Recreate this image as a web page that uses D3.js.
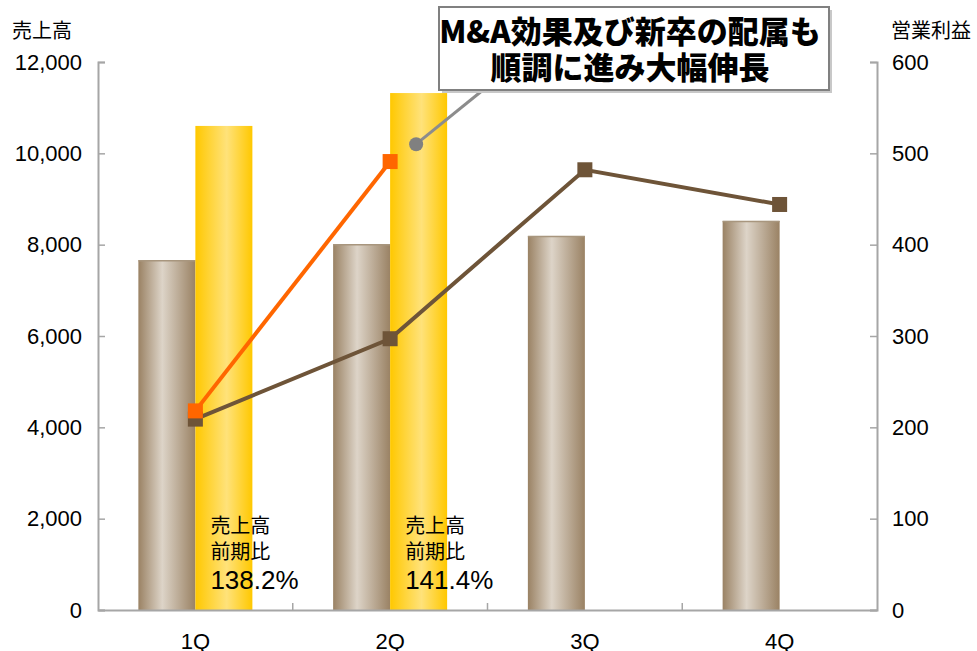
<!DOCTYPE html>
<html>
<head>
<meta charset="utf-8">
<script src="https://cdn.jsdelivr.net/npm/d3@7"></script>
<style>
  body { margin: 0; background: #fff; }
  text { font-family: "Liberation Sans", Arial, sans-serif; fill: #000; }
  .jp { font-family: "Noto Sans CJK JP", sans-serif; }
</style>
</head>
<body>
<svg width="977" height="651"></svg>
<script>
// data
var quarters = ["1Q", "2Q", "3Q", "4Q"];
var salesPrev = [7660, 8010, 8190, 8520];        // brown bars
var salesCur = [10600, 11320, null, null];       // yellow bars
var profitPrev = [209, 297, 482, 444];           // brown line
var profitCur = [218, 491, null, null];          // orange line
var leftTicks = [0, 2000, 4000, 6000, 8000, 10000, 12000];
var rightTicks = [0, 100, 200, 300, 400, 500, 600];
var growthNotes = [{q: "1Q", pct: "138.2%"}, {q: "2Q", pct: "141.4%"}];
var calloutLines = ["M&A効果及び新卒の配属も", "順調に進み大幅伸長"];
var calloutValue = 510;

var svg = d3.select("svg"),
    pLeft = 98, pRight = 877, pTop = 62, pBottom = 610;

var x = d3.scaleBand().domain(quarters).range([pLeft, pRight]);
var bw = x.bandwidth();
var barW = 57;
var yL = d3.scaleLinear().domain([0, 12000]).range([pBottom, pTop]);
var yR = d3.scaleLinear().domain([0, 600]).range([pBottom, pTop]);

var defs = svg.append("defs");
function grad(id, edge, light, at) {
  var g = defs.append("linearGradient").attr("id", id).attr("x1", "0").attr("x2", "1").attr("y1", "0").attr("y2", "0");
  g.append("stop").attr("offset", "0%").attr("stop-color", edge);
  g.append("stop").attr("offset", at).attr("stop-color", light);
  g.append("stop").attr("offset", "100%").attr("stop-color", edge);
}
grad("gBrown", "#9a8264", "#ddd4c8", "42%");
grad("gGold", "#ffc800", "#ffe27a", "55%");

// bars
svg.append("g").selectAll("rect")
  .data(quarters)
  .enter().append("rect")
    .attr("x", function(d) { return x(d) + bw / 2 - barW; })
    .attr("y", function(d, i) { return yL(salesPrev[i]); })
    .attr("width", barW)
    .attr("height", function(d, i) { return pBottom - yL(salesPrev[i]); })
    .attr("fill", "url(#gBrown)");
svg.append("g").selectAll("line")
  .data(quarters)
  .enter().append("line")
    .attr("x1", function(d) { return x(d) + bw / 2 - barW; })
    .attr("x2", function(d) { return x(d) + bw / 2; })
    .attr("y1", function(d, i) { return yL(salesPrev[i]) + 0.5; })
    .attr("y2", function(d, i) { return yL(salesPrev[i]) + 0.5; })
    .attr("stroke", "#a8967e").attr("stroke-width", 1.5);

svg.append("g").selectAll("rect")
  .data(quarters.filter(function(d, i) { return salesCur[i] != null; }))
  .enter().append("rect")
    .attr("x", function(d) { return x(d) + bw / 2; })
    .attr("y", function(d) { return yL(salesCur[quarters.indexOf(d)]); })
    .attr("width", barW)
    .attr("height", function(d) { return pBottom - yL(salesCur[quarters.indexOf(d)]); })
    .attr("fill", "url(#gGold)");

// axes
var axisColor = "#a6a6a6";
var axL = svg.append("g").attr("transform", "translate(" + pLeft + ",0)")
  .call(d3.axisRight(yL).tickValues(leftTicks).tickSize(7).tickFormat(""));
var axR = svg.append("g").attr("transform", "translate(" + pRight + ",0)")
  .call(d3.axisLeft(yR).tickValues(rightTicks).tickSize(7).tickFormat(""));
var axB = svg.append("g").attr("transform", "translate(0," + pBottom + ")")
  .call(d3.axisTop(x).tickSize(0).tickFormat(""));
[axL, axR, axB].forEach(function(a) {
  a.select(".domain").attr("stroke", axisColor).attr("stroke-width", 2);
  a.selectAll(".tick line").attr("stroke", axisColor).attr("stroke-width", 1.5);
});
// inner category separators on x axis
axB.selectAll(".sep")
  .data(quarters.slice(1))
  .enter().append("line")
    .attr("x1", function(d) { return x(d); })
    .attr("x2", function(d) { return x(d); })
    .attr("y1", 0).attr("y2", -7)
    .attr("stroke", axisColor).attr("stroke-width", 1.5);

svg.append("g").selectAll("text")
  .data(leftTicks)
  .enter().append("text")
    .attr("x", pLeft - 16)
    .attr("y", function(d) { return yL(d); })
    .attr("dy", "0.35em")
    .attr("text-anchor", "end")
    .style("font-size", "22px")
    .text(d3.format(","));
svg.append("g").selectAll("text")
  .data(rightTicks)
  .enter().append("text")
    .attr("x", pRight + 15)
    .attr("y", function(d) { return yR(d); })
    .attr("dy", "0.35em")
    .style("font-size", "22px")
    .text(function(d) { return d; });
svg.append("g").selectAll("text")
  .data(quarters)
  .enter().append("text")
    .attr("x", function(d) { return x(d) + bw / 2; })
    .attr("y", 649)
    .attr("text-anchor", "middle")
    .style("font-size", "22px")
    .text(function(d) { return d; });

svg.append("text").attr("class", "jp").attr("x", 12).attr("y", 38)
  .style("font-size", "20px").text("売上高");
svg.append("text").attr("class", "jp").attr("x", 891).attr("y", 38)
  .style("font-size", "20px").text("営業利益");

// lines
function drawLine(vals, color, size) {
  var pts = quarters.map(function(q, i) { return {q: q, v: vals[i]}; })
    .filter(function(p) { return p.v != null; });
  var line = d3.line()
    .x(function(p) { return x(p.q) + bw / 2; })
    .y(function(p) { return yR(p.v); });
  svg.append("path").datum(pts).attr("d", line)
    .attr("fill", "none").attr("stroke", color).attr("stroke-width", 4);
  svg.append("g").selectAll("rect").data(pts).enter().append("rect")
    .attr("x", function(p) { return x(p.q) + bw / 2 - size / 2; })
    .attr("y", function(p) { return yR(p.v) - size / 2; })
    .attr("width", size).attr("height", size)
    .attr("fill", color);
}
drawLine(profitPrev, "#6e5438", 15);
drawLine(profitCur, "#ff6600", 15);

// growth notes
growthNotes.forEach(function(n) {
  var gx = x(n.q) + bw / 2 + 15;
  var g = svg.append("g");
  g.append("text").attr("class", "jp").attr("x", gx).attr("y", 533).style("font-size", "20px").text("売上高");
  g.append("text").attr("class", "jp").attr("x", gx).attr("y", 559).style("font-size", "20px").text("前期比");
  g.append("text").attr("x", gx).attr("y", 589).style("font-size", "26px").text(n.pct);
});

// callout
var cx = x("2Q") + bw / 2 + 26, cy = yR(calloutValue);
var box = {x: 439, y: 7, w: 390, h: 83};
svg.append("line").attr("x1", cx).attr("y1", cy).attr("x2", 483).attr("y2", box.y + box.h)
  .attr("stroke", "#8c8c8c").attr("stroke-width", 3);
svg.append("circle").attr("cx", cx).attr("cy", cy).attr("r", 7).attr("fill", "#808080");
svg.append("rect").attr("x", box.x + 3).attr("y", box.y + 3).attr("width", box.w).attr("height", box.h)
  .attr("fill", "#c8c8c8");
svg.append("rect").attr("x", box.x).attr("y", box.y).attr("width", box.w).attr("height", box.h)
  .attr("fill", "#fff").attr("stroke", "#808080").attr("stroke-width", 2);
svg.append("g").selectAll("text").data(calloutLines).enter().append("text")
  .attr("class", "jp")
  .attr("x", box.x + box.w / 2 - 4)
  .attr("y", function(d, i) { return 43 + i * 36; })
  .attr("text-anchor", "middle")
  .style("font-size", "31px").style("font-weight", "900")
  .text(function(d) { return d; });
</script>
</body>
</html>
